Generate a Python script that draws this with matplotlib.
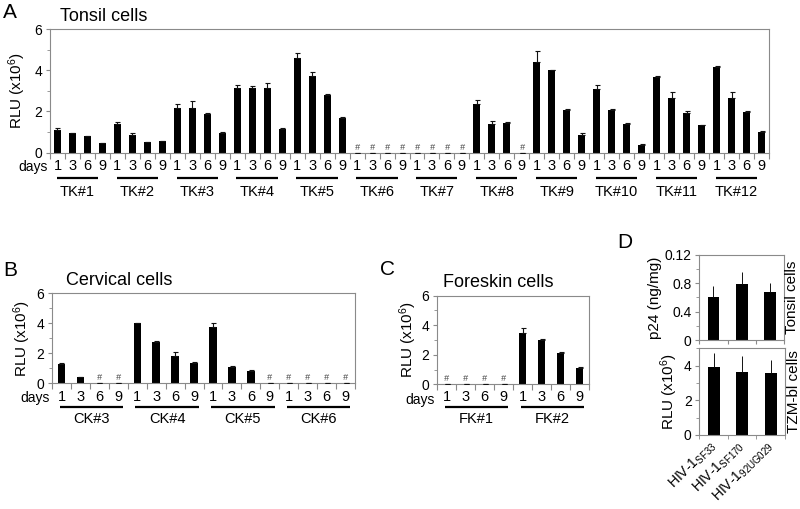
import matplotlib
matplotlib.use("Agg")
import matplotlib.pyplot as plt
import matplotlib.transforms as mtransforms
import numpy as np

plt.rcParams["font.family"] = ["Liberation Sans", "DejaVu Sans"]
plt.rcParams["mathtext.fontset"] = "custom"
plt.rcParams["mathtext.rm"] = "Liberation Sans"
plt.rcParams["mathtext.it"] = "Liberation Sans:italic"

DAYS = ["1", "3", "6", "9"]

# A - tonsil cells (RLU x10^6), 4 days per donor
tonsil_groups = ["TK#1", "TK#2", "TK#3", "TK#4", "TK#5", "TK#6",
                 "TK#7", "TK#8", "TK#9", "TK#10", "TK#11", "TK#12"]
tonsil_rlu = [1.12, 0.95, 0.80, 0.45,
              1.38, 0.86, 0.50, 0.55,
              2.17, 2.15, 1.87, 0.97,
              3.15, 3.15, 3.13, 1.17,
              4.60, 3.72, 2.80, 1.70,
              0, 0, 0, 0,
              0, 0, 0, 0,
              2.35, 1.41, 1.44, 0,
              4.39, 4.00, 2.06, 0.87,
              3.11, 2.06, 1.38, 0.37,
              3.69, 2.66, 1.93, 1.33,
              4.18, 2.66, 1.98, 1.02]
tonsil_err = [0.08, 0.02, 0.03, 0.02,
              0.10, 0.10, 0.02, 0.03,
              0.20, 0.35, 0.06, 0.02,
              0.15, 0.08, 0.25, 0.04,
              0.25, 0.18, 0.03, 0.03,
              0, 0, 0, 0,
              0, 0, 0, 0,
              0.20, 0.14, 0.03, 0,
              0.52, 0.02, 0.08, 0.09,
              0.18, 0.07, 0.08, 0.03,
              0.02, 0.30, 0.10, 0.02,
              0.03, 0.27, 0.03, 0.02]

# B - cervical cells
cervical_groups = ["CK#3", "CK#4", "CK#5", "CK#6"]
cervical_rlu = [1.27, 0.42, 0, 0,
                4.02, 2.72, 1.84, 1.33,
                3.73, 1.09, 0.84, 0,
                0, 0, 0, 0]
cervical_err = [0.05, 0.03, 0, 0,
                0.02, 0.08, 0.22, 0.06,
                0.28, 0.04, 0.03, 0,
                0, 0, 0, 0]

# C - foreskin cells
foreskin_groups = ["FK#1", "FK#2"]
foreskin_rlu = [0, 0, 0, 0, 3.50, 3.00, 2.10, 1.10]
foreskin_err = [0, 0, 0, 0, 0.30, 0.03, 0.10, 0.05]

# D - virus strains
strains = [r"HIV-1$_{\mathregular{SF33}}$", r"HIV-1$_{\mathregular{SF170}}$",
           r"HIV-1$_{\mathregular{92UG029}}$"]
p24_tonsil = [0.60, 0.79, 0.675]
p24_err = [0.16, 0.16, 0.12]
rlu_tzm = [3.93, 3.64, 3.55]
rlu_tzm_err = [0.82, 0.90, 0.76]

W, H = 800, 509
GRAY = "#8a8a8a"

fig = plt.figure(figsize=(W / 100, H / 100), dpi=100)


def add_axes(left, top, right, bottom):
    # pixel box -> figure fraction
    return fig.add_axes([left / W, 1 - bottom / H, (right - left) / W, (bottom - top) / H])


def shift(dx_px, dy_px):
    return mtransforms.ScaledTranslation(dx_px / 100, dy_px / 100, fig.dpi_scale_trans)


def style(ax):
    for sp in ax.spines.values():
        sp.set_color(GRAY)
        sp.set_linewidth(0.8)
    ax.tick_params(axis="both", which="both", direction="out", color=GRAY,
                   labelsize=10, pad=2.5)
    ax.tick_params(axis="y", which="major", length=3)
    ax.tick_params(axis="y", which="minor", length=2)


def ylabel(ax, text, dx_px):
    ax.text(0, 0.5, text, transform=ax.transAxes + shift(-dx_px, 0), rotation=90,
            ha="center", va="center", fontsize=11)


def grouped_panel(ax, values, errors, groups, width, span, dys, ylab_dx, days_drop=1):
    n = len(values)
    x = np.arange(n) + 0.5
    ax.bar(x, values, width=width, color="black", zorder=2)
    ax.errorbar(x, values, yerr=[np.zeros(n), errors], fmt="none", ecolor="#111111",
                elinewidth=0.8, capsize=1.8, capthick=0.8, zorder=3)
    ax.set_xlim(0, n)
    ax.set_ylim(0, 6)
    ax.set_yticks([0, 2, 4, 6])
    ax.set_yticks([1, 3, 5], minor=True)
    ax.set_xticks(np.arange(n + 1))
    ax.set_xticklabels([])
    ax.tick_params(axis="x", which="major", length=4)
    style(ax)
    xt = ax.get_xaxis_transform()
    for i, v in enumerate(values):
        if v == 0:
            ax.text(x[i], 0, "#", transform=xt + shift(0, 1), ha="center", va="bottom",
                    fontsize=6.5, color="#444444", style="italic")
        ax.text(x[i], 0, DAYS[i % 4], transform=xt + shift(0, -dys[0]),
                ha="center", va="center", fontsize=10.5)
    ax.text(0, 0, "days", transform=ax.transAxes + shift(-2, -dys[0] - days_drop),
            ha="right", va="center", fontsize=10)
    for g, name in enumerate(groups):
        x0, x1 = g * 4 + span[0], g * 4 + span[1]
        ax.plot([x0, x1], [0, 0], transform=xt + shift(0, -dys[1]), color="black",
                lw=1.6, clip_on=False, solid_capstyle="butt")
        ax.text((x0 + x1) / 2, 0, name, transform=xt + shift(0, -dys[2]),
                ha="center", va="center", fontsize=10.5)
    ylabel(ax, "RLU (x10$^{6}$)", ylab_dx)


# A
axA = add_axes(50, 29, 769, 152.7)
grouped_panel(axA, tonsil_rlu, tonsil_err, tonsil_groups, 0.47, (0.45, 3.2),
              (13.5, 25.3, 39), 33)

# B
axB = add_axes(52, 293.3, 355, 383.3)
grouped_panel(axB, cervical_rlu, cervical_err, cervical_groups, 0.39, (0.4, 3.75),
              (13.7, 23.7, 35.7), 30)

# C
axC = add_axes(437, 295.5, 589, 384.3)
grouped_panel(axC, foreskin_rlu, foreskin_err, foreskin_groups, 0.35, (0.4, 3.75),
              (12.7, 22.7, 34.7), 29, days_drop=3)

# D
xs = np.arange(len(strains)) + 0.5
axD1 = add_axes(699.3, 254.7, 784.3, 340)
axD1.bar(xs, p24_tonsil, width=0.42, color="black", zorder=2)
axD1.errorbar(xs, p24_tonsil, yerr=[np.zeros(3), p24_err], fmt="none", ecolor="#111111",
              elinewidth=0.7, capsize=0, zorder=3)
axD1.set_xlim(0, 3)
axD1.set_ylim(0, 1.2)
axD1.set_yticks([0, 0.4, 0.8, 1.2], ["0", "0.4", "0.8", "0.12"])
axD1.set_yticks([0.2, 0.6, 1.0], minor=True)
axD1.set_xticks(np.arange(4))
axD1.set_xticklabels([])
axD1.tick_params(axis="x", length=3)
style(axD1)
ylabel(axD1, "p24 (ng/mg)", 44)
axD1.text(1, 0.5, "Tonsil cells", transform=axD1.transAxes + shift(8, 0), rotation=90,
          ha="center", va="center", fontsize=11)

axD2 = add_axes(699.3, 348.3, 785, 435)
axD2.bar(xs, rlu_tzm, width=0.42, color="black", zorder=2)
axD2.errorbar(xs, rlu_tzm, yerr=[np.zeros(3), rlu_tzm_err], fmt="none", ecolor="#111111",
              elinewidth=0.7, capsize=0, zorder=3)
axD2.set_xlim(0, 3)
axD2.set_ylim(0, 5)
axD2.set_yticks([0, 2, 4])
axD2.set_yticks([1, 3, 5], minor=True)
axD2.set_xticks(np.arange(4), minor=True)
axD2.set_xticks(xs, strains, rotation=45, ha="right", va="center", rotation_mode="anchor")
style(axD2)
axD2.tick_params(axis="x", which="major", length=0, pad=6, labelsize=10)
axD2.tick_params(axis="x", which="minor", length=3)
ylabel(axD2, "RLU (x10$^{6}$)", 30)
axD2.text(1, 0.5, "TZM-bl cells", transform=axD2.transAxes + shift(9, 0), rotation=90,
          ha="center", va="center", fontsize=11)

# titles and panel letters (pixel positions)
for txt, x, y in [("Tonsil cells", 60, 20.7), ("Cervical cells", 65.7, 285),
                  ("Foreskin cells", 443.3, 287.3)]:
    fig.text(x / W, 1 - y / H, txt, ha="left", va="baseline", fontsize=13)
for txt, x, y in [("A", 3, 18), ("B", 3, 276), ("C", 380, 275), ("D", 617, 248)]:
    fig.text(x / W, 1 - y / H, txt, ha="left", va="baseline", fontsize=15)

fig.savefig("out.png", dpi=100)
